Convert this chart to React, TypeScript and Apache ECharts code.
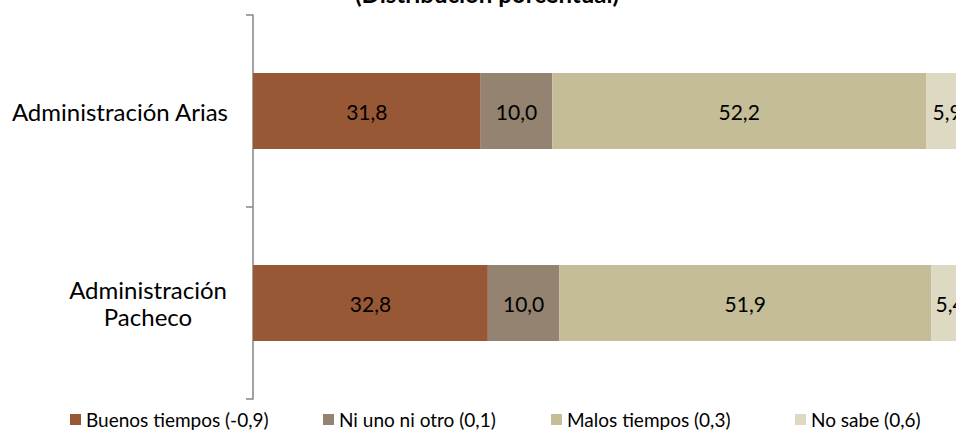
import React, { useEffect, useRef } from "react";
import * as echarts from "echarts";

const categories = ["Administración Arias", "Administración Pacheco"];
const seriesNames = ["Buenos tiempos (-0,9)", "Ni uno ni otro (0,1)", "Malos tiempos (0,3)", "No sabe (0,6)"];
const buenos = [31.8, 32.8];
const niUno = [10.0, 10.0];
const malos = [52.2, 51.9];
const noSabe = [5.9, 5.4];
const titleText = "(Distribución porcentual)";

const colors = ["#985836", "#948370", "#C4BD97", "#DDD9C3"];
const legendLefts = [70, 323, 551, 795];
const FONT = "Lato";

export default function App() {
  const ref = useRef<HTMLDivElement>(null);
  useEffect(() => {
    if (!ref.current) return;
    const chart = echarts.init(ref.current, undefined, { renderer: "svg" });
    const values = [buenos, niUno, malos, noSabe];
    chart.setOption({
      animation: false,
      backgroundColor: "#ffffff",
      textStyle: { fontFamily: FONT },
      title: {
        text: titleText,
        left: 487,
        textAlign: "center",
        top: -19,
        padding: 0,
        textStyle: { fontFamily: FONT, fontSize: 24, fontWeight: "bold", color: "#000" },
      },
      legend: seriesNames.map((n, i) => ({
        data: [n],
        left: legendLefts[i],
        top: 410,
        padding: 0,
        itemWidth: 11,
        itemHeight: 11,
        icon: "rect",
        textStyle: { fontFamily: FONT, fontSize: 19, color: "#000" },
      })),
      grid: { left: 253, right: 0, top: 15, bottom: 31, containLabel: false },
      xAxis: { type: "value", min: 0, max: 100, show: false },
      yAxis: {
        type: "category",
        inverse: true,
        data: categories,
        axisLine: { show: true, lineStyle: { color: "#868686", width: 1.5 } },
        axisTick: { show: true, length: 7, lineStyle: { color: "#868686", width: 1.5 } },
        axisLabel: {
          margin: 25,
          color: "#000",
          fontFamily: FONT,
          fontSize: 24,
          formatter: (v: string) => {
            if (v === "Administración Pacheco") return "{p|Administración}\n{p|Pacheco}";
            return "{a|" + v + "}";
          },
          rich: {
            a: { fontFamily: FONT, fontSize: 24, color: "#000" },
            p: { fontFamily: FONT, fontSize: 24, color: "#000", width: 160, align: "center", lineHeight: 27 },
          },
        },
      },
      series: seriesNames.map((n, i) => ({
        name: n,
        type: "bar",
        stack: "total",
        barWidth: 76,
        data: values[i],
        itemStyle: { color: colors[i] },
        label: {
          show: true,
          position: "inside",
          color: "#000",
          fontFamily: FONT,
          fontSize: 21,
          formatter: (p: any) => Number(p.value).toFixed(1).replace(".", ","),
        },
      })),
    });
    return () => chart.dispose();
  }, []);
  return <div ref={ref} style={{ position: "fixed", left: 0, top: 0, width: 969, height: 430 }} />;
}
